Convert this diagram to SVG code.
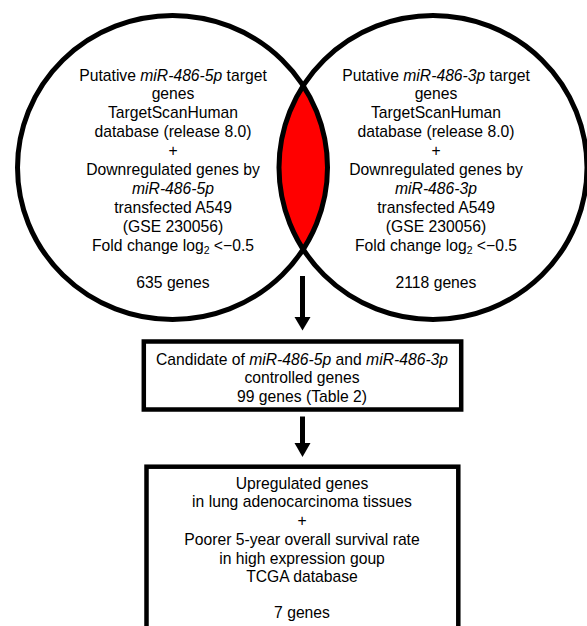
<svg xmlns="http://www.w3.org/2000/svg" width="587" height="626" viewBox="0 0 587 626">
<style>
  .t { font-family: "Liberation Sans", Arial, sans-serif; font-size: 15.7px; fill: #000; text-anchor: middle; }
  .i { font-style: italic; }
  .sub { font-size: 10.5px; }
  .ring { fill: none; stroke: #000; stroke-width: 5; }
  .box { fill: #fff; stroke: #000; stroke-width: 4.5; }
  .shaft { stroke: #000; stroke-width: 5; }
</style>
<defs>
  <clipPath id="clipL">
    <ellipse cx="172.5" cy="167.5" rx="155" ry="152"/>
  </clipPath>
</defs>
<rect width="587" height="626" fill="#fff"/>
<g id="overlap">
  <ellipse cx="433" cy="167.5" rx="154" ry="152" fill="#ff0000" clip-path="url(#clipL)"/>
</g>
<g id="circle-5p">
  <ellipse class="ring" cx="172.5" cy="167.5" rx="155" ry="152"/>
  <text class="t" x="173" y="80.5">Putative <tspan class="i">miR-486-5p</tspan> target</text>
  <text class="t" x="173" y="99.4">genes</text>
  <text class="t" x="173" y="118.3">TargetScanHuman</text>
  <text class="t" x="173" y="137.2">database (release 8.0)</text>
  <text class="t" x="173" y="156.1">+</text>
  <text class="t" x="173" y="175">Downregulated genes by</text>
  <text class="t i" x="173" y="193.9">miR-486-5p</text>
  <text class="t" x="173" y="212.8">transfected A549</text>
  <text class="t" x="173" y="231.7">(GSE 230056)</text>
  <text class="t" x="173" y="250.6">Fold change log<tspan class="sub" dy="3">2</tspan><tspan dy="-3"> &lt;−0.5</tspan></text>
  <text class="t" x="173" y="287.8">635 genes</text>
</g>
<g id="circle-3p">
  <ellipse class="ring" cx="433" cy="167.5" rx="154" ry="152"/>
  <text class="t" x="436" y="80.5">Putative <tspan class="i">miR-486-3p</tspan> target</text>
  <text class="t" x="436" y="99.4">genes</text>
  <text class="t" x="436" y="118.3">TargetScanHuman</text>
  <text class="t" x="436" y="137.2">database (release 8.0)</text>
  <text class="t" x="436" y="156.1">+</text>
  <text class="t" x="436" y="175">Downregulated genes by</text>
  <text class="t i" x="436" y="193.9">miR-486-3p</text>
  <text class="t" x="436" y="212.8">transfected A549</text>
  <text class="t" x="436" y="231.7">(GSE 230056)</text>
  <text class="t" x="436" y="250.6">Fold change log<tspan class="sub" dy="3">2</tspan><tspan dy="-3"> &lt;−0.5</tspan></text>
  <text class="t" x="436" y="287.8">2118 genes</text>
</g>
<g id="connectors">
  <line class="shaft" x1="302.5" y1="276" x2="302.5" y2="318"/>
  <polygon points="294.5,317 310.5,317 302.5,330.5"/>
  <line class="shaft" x1="302.5" y1="416.5" x2="302.5" y2="444"/>
  <polygon points="294.5,443 310.5,443 302.5,457"/>
</g>
<g id="box-candidate">
  <rect class="box" x="143.8" y="341.5" width="317.4" height="68"/>
  <text class="t" x="302" y="364.5">Candidate of <tspan class="i">miR-486-5p</tspan> and <tspan class="i">miR-486-3p</tspan></text>
  <text class="t" x="302" y="383">controlled genes</text>
  <text class="t" x="302" y="401.5">99 genes (Table 2)</text>
</g>
<g id="box-final">
  <rect class="box" x="146.5" y="466.7" width="311.8" height="200" stroke-width="5"/>
  <text class="t" x="302" y="488.5">Upregulated genes</text>
  <text class="t" x="302" y="507.3">in lung adenocarcinoma tissues</text>
  <text class="t" x="302" y="526">+</text>
  <text class="t" x="302" y="545">Poorer 5-year overall survival rate</text>
  <text class="t" x="302" y="563.6">in high expression goup</text>
  <text class="t" x="302" y="582.3">TCGA database</text>
  <text class="t" x="302" y="617.5">7 genes</text>
</g>
</svg>
